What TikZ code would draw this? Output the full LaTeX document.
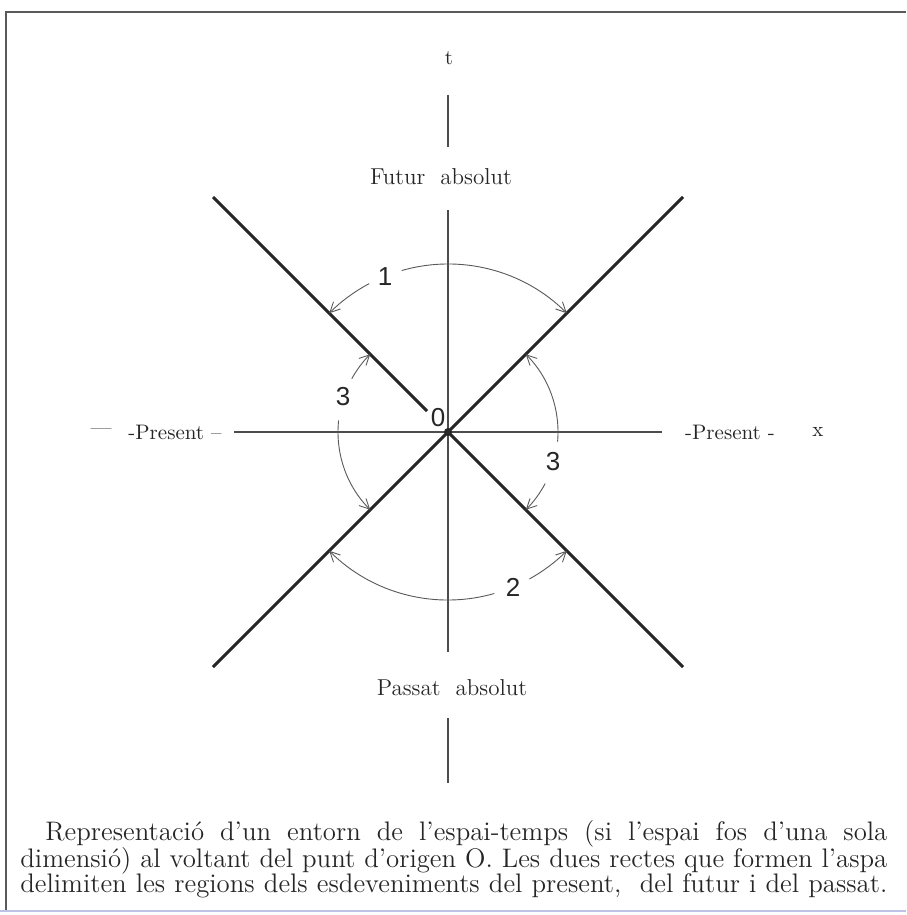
\documentclass[tikz,border=0pt]{standalone}
\usepackage{fontspec}
\newfontfamily\numfont{Liberation Sans}
\usetikzlibrary{arrows.meta}
\begin{document}
\begin{tikzpicture}[x=0.5pt,y=0.5pt,
  cone/.style={line width=1.5pt, draw=black!85},
  axisline/.style={line width=0.7pt, draw=black!70},
  arcline/.style={line width=0.45pt, draw=black!65, -{Straight Barb[length=5pt,width=5pt]}},
  lbl/.style={font=\fontsize{11.5}{13}\selectfont\addfontfeatures{LetterSpace=10,FakeBold=0.4}, text=black!85, inner sep=0pt},
  plbl/.style={font=\fontsize{10.5}{12}\selectfont\addfontfeatures{LetterSpace=6,FakeBold=0.4}, text=black!85, inner sep=0pt},
  num/.style={font=\numfont\fontsize{13}{15}\selectfont, text=black!85, inner sep=0pt},
  captext/.style={font=\fontsize{13.4}{15}\selectfont, text=black!85, inner sep=0pt, anchor=west}]

\useasboundingbox (0,0) rectangle (906,-915);
\fill[white] (0,0) rectangle (906,-915);

% frame
\coordinate (fr1) at (906,-12);
\coordinate (fr2) at (6,-12);
\coordinate (fr3) at (6,-910);
\draw[line width=1pt, black!65] (fr1) -- (fr2) -- (fr3);
\coordinate (bl1) at (0,-911);
\coordinate (bl2) at (906,-911);
\draw[line width=1pt, cyan!25!blue!25] (bl1) -- (bl2);

% origin and axes
\coordinate (O) at (448,-432);
\coordinate (axL) at (234,-432);
\coordinate (axR) at (662,-432);
\coordinate (axT) at (448,-210);
\coordinate (axB) at (448,-652);
\coordinate (tT1) at (448,-95);
\coordinate (tT2) at (448,-147);
\coordinate (tB1) at (448,-718);
\coordinate (tB2) at (448,-783);
\draw[axisline] (axL) -- (axR);
\draw[axisline] (axT) -- (axB);
\draw[axisline] (tT1) -- (tT2);
\draw[axisline] (tB1) -- (tB2);

% light cone
\coordinate (ul) at (213,-197);
\coordinate (ulin) at (427,-411);
\coordinate (ur) at (683,-197);
\coordinate (ll) at (213,-667);
\coordinate (lr) at (683,-667);
\draw[cone] (ul) -- (ulin);
\draw[cone] (ur) -- (ll);
\draw[cone] (O) -- (lr);
\fill[black!85] (O) circle[radius=4];

% arcs
\draw[arcline] (O) ++(106:168) arc[start angle=106, end angle=45, radius=168];
\draw[arcline] (O) ++(118:168) arc[start angle=118, end angle=135, radius=168];
\draw[arcline] (O) ++(-5:110) arc[start angle=-5, end angle=45, radius=110];
\draw[arcline] (O) ++(-28:110) arc[start angle=-28, end angle=-45, radius=110];
\draw[arcline] (O) ++(151:110) arc[start angle=151, end angle=135, radius=110];
\draw[arcline] (O) ++(174:110) arc[start angle=174, end angle=225, radius=110];
\draw[arcline] (O) ++(286:168) arc[start angle=286, end angle=225, radius=168];
\draw[arcline] (O) ++(299:168) arc[start angle=299, end angle=315, radius=168];

% numbers
\node[num] (n1) at (385,-277) {1};
\node[num] (n3l) at (343,-397) {3};
\node[num] (n3r) at (553,-462) {3};
\node[num] (n2) at (513,-587) {2};
\node[num] (n0) at (438,-418) {0};

% labels
\node[plbl] (t) at (449,-58) {t};
\node[lbl] (fut) at (441,-177) {Futur\ \ absolut};
\node[lbl] (pas) at (452,-688) {Passat\ \ absolut};
\node[plbl] (dash) at (101,-432) {—};
\node[plbl] (presL) at (175,-432) {-Present –};
\node[plbl] (presR) at (730,-432) {-Present -};
\node[plbl] (xl) at (818,-432) {x};

% caption
\node[captext] (c1) at (45,-834) {\makebox[421pt][s]{Representació d’un entorn de l’espai-temps (si l’espai fos d’una sola}};
\node[captext] (c2) at (20,-861) {\makebox[433.5pt][s]{dimensió) al voltant del punt d’origen O. Les dues rectes que formen l’aspa}};
\node[captext] (c3) at (20,-886) {\makebox[433.5pt][s]{delimiten les regions dels esdeveniments del present,\ \ del futur i del passat.}};
\end{tikzpicture}
\end{document}
